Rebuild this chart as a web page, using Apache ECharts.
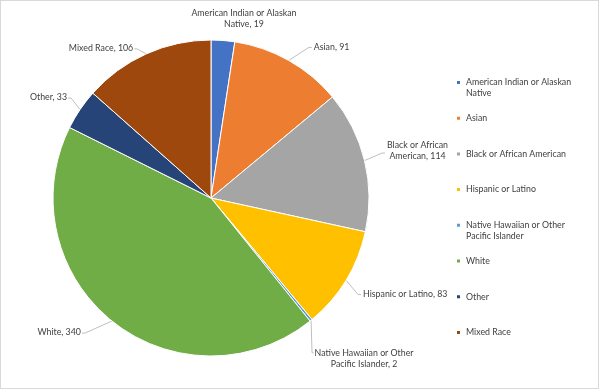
<!DOCTYPE html>
<html><head><meta charset="utf-8">
<script src="https://cdn.jsdelivr.net/npm/echarts@6/dist/echarts.min.js"></script>
<style>html,body{margin:0;padding:0;background:#fff;}
#c{position:absolute;left:0;top:0;width:597px;height:387px;border:1px solid #d9d9d9;}</style>
</head><body><div id="c"></div>
<script>
const categories = ['American Indian or Alaskan Native','Asian','Black or African American','Hispanic or Latino','Native Hawaiian or Other Pacific Islander','White','Other','Mixed Race'];
const values = [19, 91, 114, 83, 2, 340, 33, 106];
const colors = ['#4472C4','#ED7D31','#A5A5A5','#FFC000','#5B9BD5','#70AD47','#264478','#9E480E'];
const labelNames = ['American Indian or Alaskan\nNative','Asian','Black or African\nAmerican','Hispanic or Latino','Native Hawaiian or Other\nPacific Islander','White','Other','Mixed Race'];
const legendNames = ['American Indian or Alaskan\nNative','Asian','Black or African American','Hispanic or Latino','Native Hawaiian or Other\nPacific Islander','White','Other','Mixed Race'];

// label placement style: offset of label anchor from slice edge point, alignment, leader-line bend
const labelPlace = [
  {dx:21, dy:-21.5, align:'center', line:false},
  {dx:25, dy:-13, align:'left', line:true},
  {dx:53, dy:-10, align:'center', line:true},
  {dx:17, dy:14.5, align:'left', line:true},
  {dx:53, dy:38, align:'center', line:true, vertical:true},
  {dx:-31, dy:11, align:'right', line:true},
  {dx:-13, dy:-12.5, align:'right', line:true},
  {dx:-13, dy:-6, align:'right', line:true}
];

const FONT = "Lato, 'Liberation Sans', sans-serif";
const FS = 8.8;
const chart = echarts.init(document.getElementById('c'), null, {renderer:'canvas'});
const data = categories.map((n,i)=>({name:n, value:values[i], itemStyle:{color:colors[i]}}));
chart.setOption({
  animation:false,
  color: colors,
  legend: {
    orient:'vertical', left:449, top:60, itemWidth:5, itemHeight:5, itemGap:2.7,
    icon:'rect',
    textStyle:{fontFamily:FONT, fontSize:FS, color:'#404040', lineHeight:11},
    formatter: function(name){
      const i = categories.indexOf(name);
      const lines = legendNames[i].split('\n');
      return '\u00a0\n' + lines[0] + '\n' + (lines[1] || '\u00a0');
    },
    data: categories
  },
  series: [{
    type:'pie', center:[210,197], radius:158, startAngle:90, clockwise:true,
    itemStyle:{borderColor:'#fff', borderWidth:1},
    label:{
      show:true, fontFamily:FONT, fontSize:FS, color:'#404040', lineHeight:11,
      formatter: function(p){ return labelNames[p.dataIndex] + ', ' + p.value; }
    },
    labelLine:{show:true, length:12, length2:8, lineStyle:{color:'#bfbfbf', width:1}},
    labelLayout: function(params){
      const i = params.dataIndex;
      const pl = labelPlace[i];
      const e = params.labelLinePoints[0];
      const lx = e[0] + pl.dx, ly = e[1] + pl.dy;
      const w = params.labelRect.width, h = params.labelRect.height;
      const out = {x: lx, y: ly, align: pl.align, verticalAlign:'middle'};
      if (!pl.line) {
        out.labelLinePoints = [e, e, e];
      } else if (pl.vertical) {
        const yy = ly - h/2 + 5.5;
        const leftX = lx - w/2;
        out.labelLinePoints = [e, [e[0] + 1, yy], [leftX - 1, yy]];
      } else if (pl.align === 'right') {
        out.labelLinePoints = [e, [lx + 4, ly + 1], [lx + 1, ly + 1]];
      } else {
        const leftX = pl.align === 'center' ? lx - w/2 : lx;
        const yy = pl.align === 'center' ? ly + 2.5 : ly;
        out.labelLinePoints = [e, [leftX - 5, yy], [leftX - 2, yy]];
      }
      return out;
    },
    data: data
  }]
});
</script></body></html>
